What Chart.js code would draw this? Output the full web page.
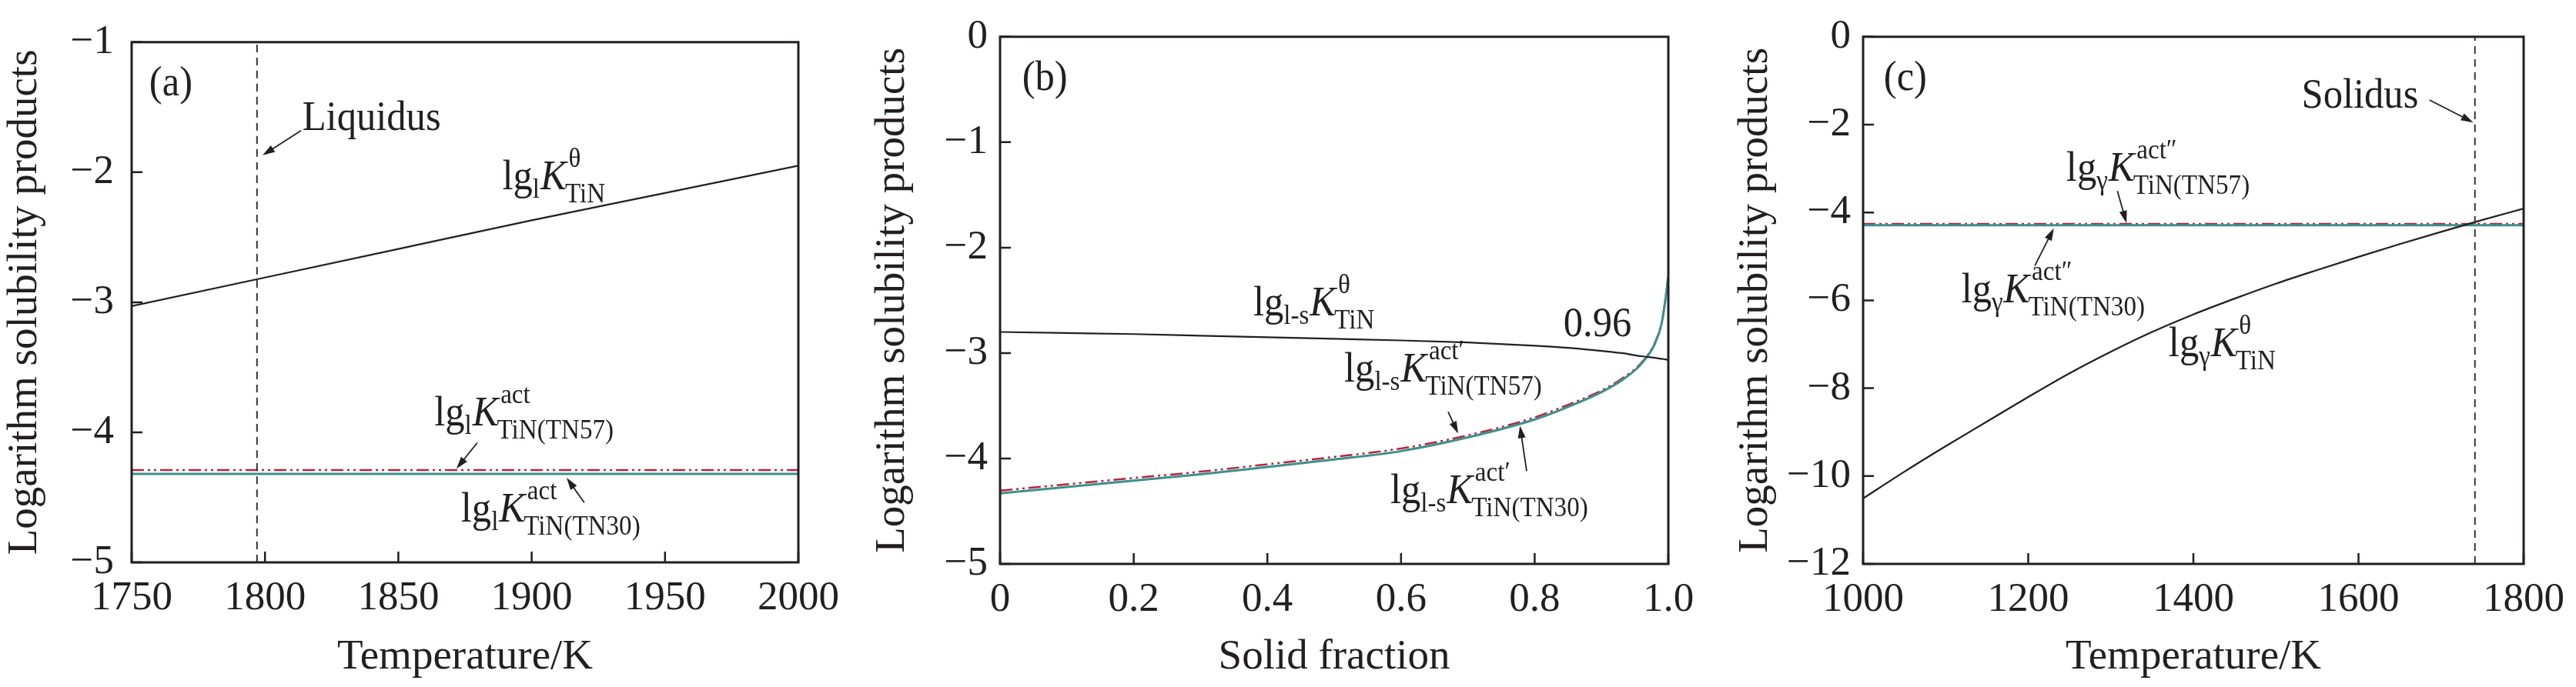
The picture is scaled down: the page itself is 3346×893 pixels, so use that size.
<!DOCTYPE html>
<html>
<head>
<meta charset="utf-8">
<title>Logarithm solubility products of TiN</title>
<script src="https://cdn.jsdelivr.net/npm/chart.js@4.4.0/dist/chart.umd.min.js"></script>
<style>
  body { margin: 0; background: #fff; }
  #wrap { position: relative; width: 3346px; height: 893px; overflow: hidden; }
  canvas { position: absolute; top: 0; }
</style>
</head>
<body>
<div id="wrap">
  <canvas id="chartA" width="1120" height="893" style="left:0px"></canvas>
  <canvas id="chartB" width="1120" height="893" style="left:1120px"></canvas>
  <canvas id="chartC" width="1106" height="893" style="left:2240px"></canvas>
</div>
<script>
// ---------- data: panel (a), liquid ----------
const tempA = [1750, 1800, 1850, 1900, 1950, 2000];
const lgKthetaA = [-3.03, -2.81, -2.59, -2.37, -2.16, -1.95];
const lgKactTN57A = [-4.29, -4.29, -4.29, -4.29, -4.29, -4.29];
const lgKactTN30A = [-4.32, -4.32, -4.32, -4.32, -4.32, -4.32];
const liquidusT = 1797;
const xTicksA = [1750, 1800, 1850, 1900, 1950, 2000];
const yTicksA = [-5, -4, -3, -2, -1];

// ---------- data: panel (b), solidification ----------
const solidFrac = [0, 0.1, 0.2, 0.3, 0.4, 0.5, 0.6, 0.7, 0.8, 0.85, 0.9, 0.93, 0.96, 0.98, 0.99, 0.996, 1.0];
const lgKthetaB = [-2.80, -2.81, -2.82, -2.835, -2.85, -2.865, -2.88, -2.90, -2.93, -2.95, -2.98, -3.00, -3.03, -3.045, -3.055, -3.06, -3.065];
const lgKactTN30B = [-4.33, -4.27, -4.21, -4.15, -4.08, -4.01, -3.93, -3.80, -3.63, -3.51, -3.37, -3.26, -3.10, -2.91, -2.72, -2.48, -2.28];
const lgKactTN57B = [-4.305, -4.245, -4.185, -4.125, -4.055, -3.985, -3.905, -3.78, -3.61, -3.49, -3.355, -3.245, -3.09, -2.90, -2.71, -2.47, -2.26];
const xTicksB = [0, 0.2, 0.4, 0.6, 0.8, 1.0];
const yTicksB = [-5, -4, -3, -2, -1, 0];

// ---------- data: panel (c), austenite ----------
const tempC = [1000, 1050, 1100, 1150, 1200, 1250, 1300, 1350, 1400, 1450, 1500, 1550, 1600, 1650, 1700, 1750, 1800];
const lgKthetaC = [-10.51, -9.90, -9.32, -8.76, -8.20, -7.66, -7.17, -6.72, -6.32, -5.96, -5.62, -5.31, -5.01, -4.72, -4.44, -4.17, -3.91];
const lgKactTN57C = tempC.map(() => -4.26);
const lgKactTN30C = tempC.map(() => -4.29);
const solidusT = 1741;
const xTicksC = [1000, 1200, 1400, 1600, 1800];
const yTicksC = [-12, -10, -8, -6, -4, -2, 0];

const FONT = '"Liberation Serif", "Times New Roman", Times, serif';
const INK = "#231f20";
const RED = "#b3263a";
const TEAL = "#3e8f8c";
const TICK_SIZE = 53;
const TITLE_SIZE = 55;
const MAIN = 55;   // label body text
const SMALL = 36;  // label sub/superscripts
const SQUEEZE = 0.92; // the figure's type is a little condensed

/* ---------- helpers ---------- */

function pts(xs, ys) {
  return xs.map((x, i) => ({ x, y: ys[i] }));
}

function fmtY(v) {
  return v < 0 ? "\u2212" + Math.abs(v) : String(v);
}

function drawArrow(ctx, x1, y1, x2, y2) {
  const ang = Math.atan2(y2 - y1, x2 - x1);
  const len = 16;
  const half = 5;
  const c = Math.cos(ang);
  const s = Math.sin(ang);
  ctx.beginPath();
  ctx.moveTo(x1, y1);
  ctx.lineTo(x2 - c * len * 0.8, y2 - s * len * 0.8);
  ctx.stroke();
  ctx.beginPath();
  ctx.moveTo(x2, y2);
  ctx.lineTo(x2 - c * len - s * half, y2 - s * len + c * half);
  ctx.lineTo(x2 - c * len + s * half, y2 - s * len - c * half);
  ctx.closePath();
  ctx.fill();
}

// parts: [text, kind, subText]; kind n = upright, i = italic, sub = small subscript, ss = sup + sub stacked
function drawRich(ctx, x0, y0, parts) {
  ctx.save();
  ctx.translate(x0, y0);
  ctx.scale(SQUEEZE, 1);
  let cx = 0;
  parts.forEach(([t, kind, t2]) => {
    if (kind === "n" || kind === "i") {
      ctx.font = (kind === "i" ? "italic " : "") + MAIN + "px " + FONT;
      ctx.fillText(t, cx, 0);
      cx += ctx.measureText(t).width;
    } else if (kind === "sub") {
      ctx.font = SMALL + "px " + FONT;
      ctx.fillText(t, cx, 11);
      cx += ctx.measureText(t).width + 1;
    } else if (kind === "ss") {
      ctx.font = SMALL + "px " + FONT;
      ctx.fillText(t, cx + 3, -29);
      ctx.fillText(t2, cx - 2, 17);
      cx += Math.max(ctx.measureText(t).width, ctx.measureText(t2).width);
    }
  });
  ctx.restore();
}

function annotPlugin(spec) {
  return {
    id: "annot",
    afterDatasetsDraw(chart) {
      const { ctx, scales: { x, y } } = chart;
      ctx.save();
      ctx.fillStyle = INK;
      ctx.strokeStyle = INK;
      ctx.lineWidth = 1.8;
      ctx.textAlign = "left";
      ctx.textBaseline = "alphabetic";
      spec.arrows.forEach((a) => {
        drawArrow(ctx, x.getPixelForValue(a[0]), y.getPixelForValue(a[1]),
          x.getPixelForValue(a[2]), y.getPixelForValue(a[3]));
      });
      spec.labels.forEach((l) => {
        drawRich(ctx, x.getPixelForValue(l.at[0]), y.getPixelForValue(l.at[1]), l.parts);
      });
      ctx.restore();
    }
  };
}

// full frame + inward tick marks
const frameTicks = {
  id: "frameTicks",
  afterDraw(chart) {
    const { ctx, chartArea: a, scales: { x, y } } = chart;
    ctx.save();
    ctx.strokeStyle = INK;
    ctx.lineWidth = 2.5;
    ctx.beginPath();
    x.ticks.forEach((t) => {
      const px = x.getPixelForValue(t.value);
      ctx.moveTo(px, a.bottom);
      ctx.lineTo(px, a.bottom - 14);
    });
    y.ticks.forEach((t) => {
      const py = y.getPixelForValue(t.value);
      ctx.moveTo(a.left, py);
      ctx.lineTo(a.left + 14, py);
    });
    ctx.stroke();
    ctx.lineWidth = 3;
    ctx.strokeRect(a.left, a.top, a.right - a.left, a.bottom - a.top);
    ctx.restore();
  }
};

function axisX(min, max, tickVals, fmt, title, height) {
  return {
    type: "linear",
    min,
    max,
    grid: { display: false, drawTicks: false },
    border: { display: false },
    afterBuildTicks: (s) => { s.ticks = tickVals.map((v) => ({ value: v })); },
    afterFit: (s) => { s.height = height; },
    ticks: {
      font: { family: FONT, size: TICK_SIZE },
      color: INK,
      padding: 15,
      maxRotation: 0,
      autoSkip: false,
      callback: fmt
    },
    title: {
      display: true,
      text: title,
      font: { family: FONT, size: TITLE_SIZE },
      color: INK,
      padding: { top: 0, bottom: 5 }
    }
  };
}

function axisY(min, max, tickVals, width, titlePad, labelPad) {
  return {
    type: "linear",
    min,
    max,
    grid: { display: false, drawTicks: false },
    border: { display: false },
    afterBuildTicks: (s) => { s.ticks = tickVals.map((v) => ({ value: v })); },
    afterFit: (s) => { s.width = width; },
    ticks: {
      font: { family: FONT, size: TICK_SIZE },
      color: INK,
      padding: labelPad,
      autoSkip: false,
      callback: fmtY
    },
    title: {
      display: true,
      text: "Logarithm solubility products",
      font: { family: FONT, size: TITLE_SIZE },
      color: INK,
      padding: { top: titlePad, bottom: 0 }
    }
  };
}

function line(data, color, width, dash) {
  return {
    data,
    borderColor: color,
    borderWidth: width,
    borderDash: dash || [],
    pointRadius: 0,
    fill: false,
    cubicInterpolationMode: "monotone"
  };
}

const dashDotDot = [16, 5, 3, 5, 3, 5];

function makeChart(id, datasets, scales, padding, spec) {
  return new Chart(document.getElementById(id), {
    type: "line",
    data: { datasets },
    options: {
      responsive: false,
      animation: false,
      devicePixelRatio: 1,
      layout: { padding },
      plugins: { legend: { display: false }, tooltip: { enabled: false } },
      scales
    },
    plugins: [frameTicks, annotPlugin(spec)]
  });
}

/* ---------- panel (a) ---------- */
makeChart("chartA",
  [
    line([{ x: liquidusT, y: -5 }, { x: liquidusT, y: -1 }], "#333", 2, [10, 7]),
    line(pts(tempA, lgKthetaA), INK, 2.2),
    line(pts(tempA, lgKactTN30A), TEAL, 3),
    line(pts(tempA, lgKactTN57A), RED, 2.5, dashDotDot)
  ],
  {
    x: axisX(1750, 2000, xTicksA, (v) => String(v), "Temperature/K", 162),
    y: axisY(-5, -1, yTicksA, 171, 0, 23)
  },
  { top: 32, right: 83, bottom: 0, left: 0 },
  {
    labels: [
      { at: [1889, -2.13], parts: [["lg", "n"], ["l", "sub"], ["K", "i"], ["\u03b8", "ss", "TiN"]] },
      { at: [1863.5, -3.95], parts: [["lg", "n"], ["l", "sub"], ["K", "i"], ["act", "ss", "TiN(TN57)"]] },
      { at: [1873.5, -4.685], parts: [["lg", "n"], ["l", "sub"], ["K", "i"], ["act", "ss", "TiN(TN30)"]] },
      { at: [1814, -1.675], parts: [["Liquidus", "n"]] },
      { at: [1756.6, -1.41], parts: [["(a)", "n"]] }
    ],
    arrows: [
      [1813.5, -1.68, 1799.1, -1.87],
      [1879.6, -4.08, 1871.8, -4.28],
      [1919.7, -4.54, 1913.1, -4.35]
    ]
  }
);

/* ---------- panel (b) ---------- */
makeChart("chartB",
  [
    line(pts(solidFrac, lgKthetaB), INK, 2.2),
    line(pts(solidFrac, lgKactTN30B), TEAL, 3),
    line(pts(solidFrac, lgKactTN57B), RED, 2.5, dashDotDot)
  ],
  {
    x: axisX(0, 1, xTicksB, (v) => (v === 0 ? "0" : v.toFixed(1)), "Solid fraction", 160),
    y: axisY(-5, 0, yTicksB, 179, 7, 16)
  },
  { top: 33, right: 73, bottom: 0, left: 0 },
  {
    labels: [
      { at: [0.379, -2.64], parts: [["lg", "n"], ["l-s", "sub"], ["K", "i"], ["\u03b8", "ss", "TiN"]] },
      { at: [0.843, -2.84], parts: [["0.96", "n"]] },
      { at: [0.515, -3.27], parts: [["lg", "n"], ["l-s", "sub"], ["K", "i"], ["act\u2032", "ss", "TiN(TN57)"]] },
      { at: [0.584, -4.42], parts: [["lg", "n"], ["l-s", "sub"], ["K", "i"], ["act\u2032", "ss", "TiN(TN30)"]] },
      { at: [0.033, -0.507], parts: [["(b)", "n"]] }
    ],
    arrows: [
      [0.6705, -3.557, 0.6855, -3.764],
      [0.788, -4.12, 0.778, -3.69]
    ]
  }
);

/* ---------- panel (c) ---------- */
makeChart("chartC",
  [
    line([{ x: solidusT, y: -12 }, { x: solidusT, y: 0 }], "#333", 2, [10, 7]),
    line(pts(tempC, lgKthetaC), INK, 2.2),
    line(pts(tempC, lgKactTN30C), TEAL, 3),
    line(pts(tempC, lgKactTN57C), RED, 2.5, dashDotDot)
  ],
  {
    x: axisX(1000, 1800, xTicksC, (v) => String(v), "Temperature/K", 160),
    y: axisY(-12, 0, yTicksC, 180, 8, 16)
  },
  { top: 33, right: 61, bottom: 0, left: 0 },
  {
    labels: [
      { at: [1370, -7.28], parts: [["lg", "n"], ["\u03b3", "sub"], ["K", "i"], ["\u03b8", "ss", "TiN"]] },
      { at: [1246, -3.27], parts: [["lg", "n"], ["\u03b3", "sub"], ["K", "i"], ["act\u2033", "ss", "TiN(TN57)"]] },
      { at: [1119, -6.05], parts: [["lg", "n"], ["\u03b3", "sub"], ["K", "i"], ["act\u2033", "ss", "TiN(TN30)"]] },
      { at: [1531, -1.61], parts: [["Solidus", "n"]] },
      { at: [1025, -1.22], parts: [["(c)", "n"]] }
    ],
    arrows: [
      [1308, -3.51, 1319, -4.24],
      [1208, -5.21, 1231, -4.36],
      [1686, -1.44, 1739, -1.95]
    ]
  }
);
</script>
</body>
</html>
